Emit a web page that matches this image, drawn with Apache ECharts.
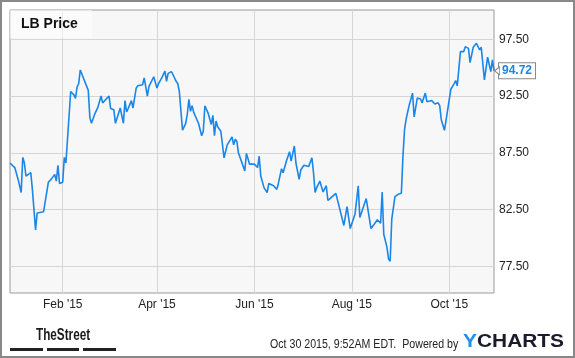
<!DOCTYPE html>
<html>
<head>
<meta charset="utf-8">
<script src="https://cdn.jsdelivr.net/npm/echarts@6/dist/echarts.min.js"></script>
<style>
html,body{margin:0;padding:0;background:#fff;}
#chart{width:575px;height:358px;}
</style>
</head>
<body>
<div id="chart"></div>
<script>
const dates = [
'2014-12-30','2015-01-02','2015-01-04','2015-01-06','2015-01-07','2015-01-08','2015-01-09','2015-01-12','2015-01-13','2015-01-15',
'2015-01-16','2015-01-20','2015-01-21','2015-01-23','2015-01-25','2015-01-27','2015-01-28','2015-01-29','2015-01-30','2015-02-01',
'2015-02-02','2015-02-03','2015-02-06','2015-02-08','2015-02-09','2015-02-10','2015-02-11','2015-02-12','2015-02-17','2015-02-18',
'2015-02-19','2015-02-21','2015-02-23','2015-02-24','2015-02-25','2015-02-26','2015-03-02','2015-03-03','2015-03-05','2015-03-06',
'2015-03-09','2015-03-11','2015-03-12','2015-03-13','2015-03-14','2015-03-16','2015-03-17','2015-03-19','2015-03-20','2015-03-23',
'2015-03-24','2015-03-26','2015-03-27','2015-03-30','2015-03-31','2015-04-01','2015-04-02','2015-04-04','2015-04-06','2015-04-07',
'2015-04-08','2015-04-10','2015-04-11','2015-04-13','2015-04-14','2015-04-15','2015-04-17','2015-04-19','2015-04-20','2015-04-21',
'2015-04-22','2015-04-23','2015-04-24','2015-04-27','2015-04-29','2015-04-30','2015-05-01','2015-05-03','2015-05-05','2015-05-06',
'2015-05-07','2015-05-08','2015-05-09','2015-05-11','2015-05-13','2015-05-15','2015-05-18','2015-05-19','2015-05-20','2015-05-21',
'2015-05-22','2015-05-24','2015-05-26','2015-05-27','2015-05-28','2015-05-29','2015-06-01','2015-06-03','2015-06-04','2015-06-05',
'2015-06-07','2015-06-09','2015-06-10','2015-06-13','2015-06-15','2015-06-16','2015-06-18','2015-06-19','2015-06-21','2015-06-23',
'2015-06-24','2015-06-26','2015-06-27','2015-06-29','2015-06-30','2015-07-02','2015-07-05','2015-07-06','2015-07-07','2015-07-08',
'2015-07-09','2015-07-10','2015-07-12','2015-07-14','2015-07-16','2015-07-17','2015-07-19','2015-07-22','2015-07-24','2015-07-27',
'2015-07-29','2015-07-31','2015-08-03','2015-08-05','2015-08-06','2015-08-07','2015-08-10','2015-08-13','2015-08-15','2015-08-17',
'2015-08-19','2015-08-20','2015-08-21','2015-08-23','2015-08-24','2015-08-25','2015-08-26','2015-08-28','2015-08-30','2015-09-01',
'2015-09-02','2015-09-03','2015-09-04','2015-09-06','2015-09-08','2015-09-09','2015-09-11','2015-09-13','2015-09-14','2015-09-16',
'2015-09-17','2015-09-20','2015-09-21','2015-09-22','2015-09-24','2015-09-25','2015-09-26','2015-09-28','2015-09-29','2015-10-02',
'2015-10-04','2015-10-05','2015-10-06','2015-10-08','2015-10-10','2015-10-11','2015-10-13','2015-10-14','2015-10-16','2015-10-18',
'2015-10-20','2015-10-21','2015-10-23','2015-10-25','2015-10-27','2015-10-28','2015-10-29'
];
const prices = [
86.6,86.2,85.2,84.0,87.1,86.6,85.45,85.75,84.3,80.7,
82.2,82.3,82.4,84.9,85.2,85.6,85.0,86.4,84.8,84.9,
87.1,86.6,92.9,92.6,92.3,93.3,93.6,94.8,93.0,90.6,
90.1,90.9,91.5,91.6,92.5,91.9,92.5,91.4,91.3,90.1,
91.45,90.1,92.1,91.1,91.4,92.1,91.45,93.2,93.4,93.5,
94.1,92.5,93.35,94.2,94.3,93.2,93.6,94.1,94.7,93.8,
94.5,94.65,94.4,93.8,93.6,92.9,89.5,90.1,90.9,92.2,
91.15,91.65,91.06,90.1,89.0,89.4,91.65,91.0,90.0,90.8,
89.0,90.3,89.8,89.4,87.06,88.2,88.9,88.2,88.7,88.5,
87.5,86.7,85.9,87.45,87.45,86.5,86.5,86.2,87.2,85.45,
84.43,84.0,84.8,84.6,84.28,84.8,86.1,85.75,86.76,87.6,
86.76,88.1,86.6,85.16,85.98,86.4,86.3,86.18,87.06,85.75,
84.0,84.43,85.0,84.05,84.6,83.3,83.55,83.93,82.8,81.1,
82.76,80.83,82.1,84.6,81.8,81.7,83.47,80.83,81.2,81.6,
81.3,84.05,80.33,79.17,78.14,77.94,81.65,83.64,83.84,83.93,
87.2,89.54,90.48,91.74,92.76,90.66,92.33,92.24,91.9,92.76,
92.0,92.1,92.24,91.8,91.9,91.65,90.42,89.48,89.48,93.1,
93.58,93.87,93.4,96.41,96.41,96.85,96.7,95.45,96.8,97.15,
96.56,96.8,93.93,95.92,94.66,95.68,94.72
];
const xTickDates = ['2015-02-01','2015-04-01','2015-06-01','2015-08-01','2015-10-01'];
const yTicks = [77.5, 82.5, 87.5, 92.5, 97.5];
const monthNames = ['Jan','Feb','Mar','Apr','May','Jun','Jul','Aug','Sep','Oct','Nov','Dec'];
const titleText = 'LB Price';
const footerStamp = 'Oct 30 2015, 9:52AM EDT.  Powered by';

function toTs(s){ const p = s.split('-').map(Number); return new Date(p[0], p[1]-1, p[2]).getTime(); }
const xTickTs = xTickDates.map(toTs);
const seriesData = dates.map((d,i)=>[toTs(d), prices[i]]);
const lastIdx = prices.length - 1;
const FONT = "'Liberation Sans', Arial, Helvetica, sans-serif";
const BLUE = '#1a86e8';

const chart = echarts.init(document.getElementById('chart'), null, {renderer:'canvas'});
chart.setOption({
  animation: false,
  backgroundColor: '#ffffff',
  textStyle: {fontFamily: FONT},
  title: {
    text: titleText, left: 10, top: 10,
    padding: [7, 14, 7, 11],
    backgroundColor: 'rgba(255,255,255,0.55)',
    textStyle: {fontSize: 14, fontWeight: 'bold', color: '#111', fontFamily: FONT}
  },
  grid: {
    left: 10, top: 10, right: 81, bottom: 65,
    show: true, backgroundColor: '#f7f7f7', borderColor: '#999', borderWidth: 1,
    containLabel: false, outerBoundsMode: 'none'
  },
  xAxis: {
    type: 'value',
    min: toTs('2014-12-30'), max: toTs('2015-10-29'),
    axisLine: {show: false},
    axisTick: {show: false, customValues: xTickTs},
    splitLine: {show: true, lineStyle: {color: '#d6d6d6', width: 1}},
    axisLabel: {
      customValues: xTickTs, margin: 6, color: '#222', fontSize: 12, fontFamily: FONT,
      formatter: function(v){ const d = new Date(v); return monthNames[d.getMonth()] + " '" + String(d.getFullYear()).slice(2); }
    }
  },
  yAxis: {
    type: 'value', position: 'right',
    min: 75.15, max: 100.08,
    axisLine: {show: false},
    axisTick: {show: false, customValues: yTicks},
    splitLine: {show: true, lineStyle: {color: '#d6d6d6', width: 1}},
    axisLabel: {
      customValues: yTicks, margin: 5, color: '#222', fontSize: 12, fontFamily: FONT,
      formatter: function(v){ return Number(v).toFixed(2); }
    }
  },
  series: [{
    type: 'line',
    data: seriesData,
    showSymbol: false,
    symbol: 'none',
    lineStyle: {color: BLUE, width: 1.6},
    itemStyle: {color: BLUE},
    endLabel: {
      show: true, distance: 5,
      formatter: function(){ return prices[lastIdx].toFixed(2); },
      color: BLUE, fontWeight: 'bold', fontSize: 12, fontFamily: FONT,
      backgroundColor: '#fff', borderColor: '#888', borderWidth: 1,
      padding: [2, 3, 1, 3]
    },
    markPoint: {
      silent: true,
      symbol: 'triangle', symbolSize: [8, 5], symbolRotate: 90, symbolOffset: [3, 0],
      itemStyle: {color: '#fff', borderColor: '#888', borderWidth: 1},
      label: {show: false},
      data: [{coord: [toTs(dates[lastIdx]), prices[lastIdx]]}]
    }
  }],
  graphic: [
    {type: 'rect', shape: {x: 1, y: 1, width: 573, height: 356}, style: {fill: 'none', stroke: '#888', lineWidth: 2}, silent: true},
    {type: 'text', x: 36, y: 335.5, scaleX: 0.69, style: {text: 'TheStreet', font: "bold 17px " + FONT, fill: '#1a1a1a', verticalAlign: 'middle', align: 'left'}},
    {type: 'rect', shape: {x: 10, y: 348, width: 33, height: 3}, style: {fill: '#222'}},
    {type: 'rect', shape: {x: 47, y: 348, width: 32, height: 3}, style: {fill: '#222'}},
    {type: 'rect', shape: {x: 83, y: 348, width: 33, height: 3}, style: {fill: '#222'}},
    {type: 'text', x: 270, y: 344.2, scaleX: 0.885, style: {text: footerStamp, font: "12px " + FONT, fill: '#222', verticalAlign: 'middle', align: 'left'}},
    {type: 'text', x: 463, y: 341.7, scaleX: 1.1, style: {
      text: '{y|Y}{c|CHARTS}', font: "bold 19px " + FONT, verticalAlign: 'middle', align: 'left',
      rich: {y: {fill: '#1e8ff0', font: "bold 19px " + FONT}, c: {fill: '#1b1b2b', font: "bold 19px " + FONT}}
    }}
  ]
});
</script>
</body>
</html>
